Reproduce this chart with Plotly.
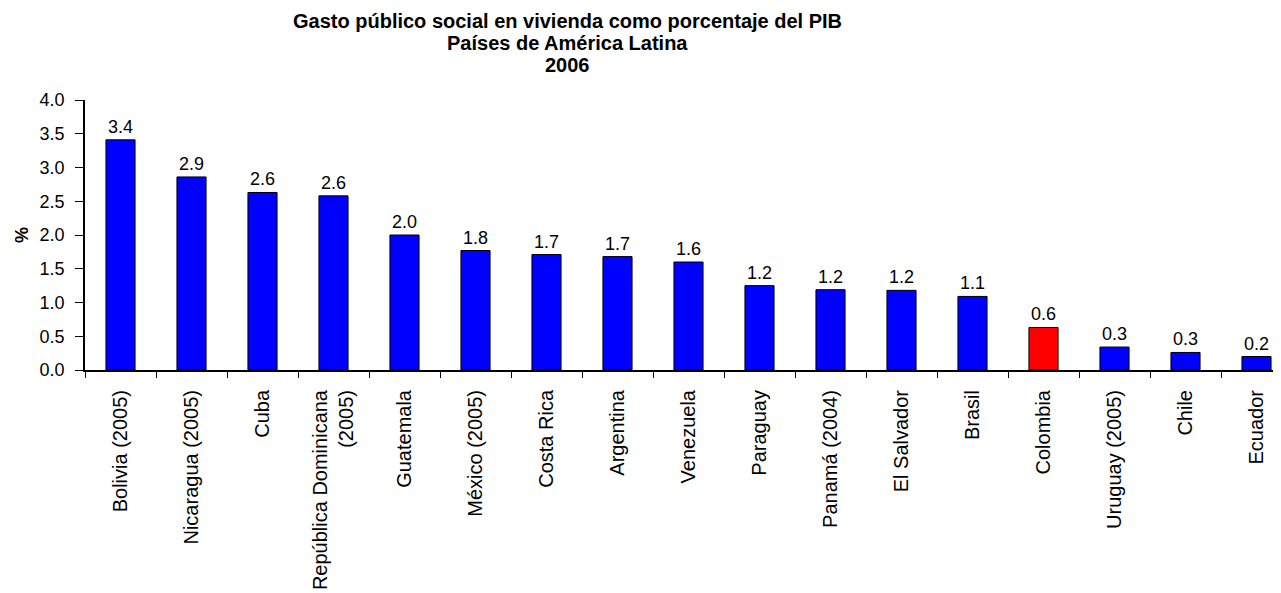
import plotly.graph_objects as go

categories = ["Bolivia (2005)", "Nicaragua (2005)", "Cuba", "República Dominicana<br>(2005)",
              "Guatemala", "México (2005)", "Costa Rica", "Argentina", "Venezuela", "Paraguay",
              "Panamá (2004)", "El Salvador", "Brasil", "Colombia", "Uruguay (2005)", "Chile", "Ecuador"]
values = [3.41, 2.86, 2.63, 2.58, 2.0, 1.77, 1.71, 1.68, 1.6, 1.25, 1.19, 1.18, 1.09, 0.63, 0.34, 0.26, 0.2]
highlight = "Colombia"
title_lines = ["Gasto público social en vivienda como porcentaje del PIB",
               "Países de América Latina",
               "2006"]

colors = ["#FF0000" if c == highlight else "#0000FF" for c in categories]
FONT = "Liberation Sans"

# page body has an 8px margin; compensate so plot area sits at x=85..1281, y=100..370
OFF = 8
W, H = 1281 - OFF, 593 - OFF
PT, PB, PL = 100, 370, 85
ph = PB - PT

fig = go.Figure(go.Bar(
    x=categories, y=values,
    marker=dict(color=colors, line=dict(color="black", width=1)),
    text=[f"{v:.1f}" for v in values], textposition="outside",
    textfont=dict(size=18, color="black", family=FONT),
    cliponaxis=False,
))

annos = []
for yc, line in zip([21, 43, 65], title_lines):
    annos.append(dict(
        text=f"<b>{line}</b>", xref="paper", yref="paper",
        x=(567 - PL) / (1281 - PL), y=1 + (PT - yc) / ph,
        xanchor="center", yanchor="middle", showarrow=False,
        font=dict(size=20, family=FONT, color="black"),
    ))

fig.update_layout(
    width=W, height=H,
    margin=dict(l=PL - OFF, r=0, t=PT - OFF, b=H + OFF - PB),
    paper_bgcolor="white", plot_bgcolor="white",
    bargap=0.59,
    showlegend=False,
    font=dict(family=FONT, color="black", size=18),
    annotations=annos,
)

fig.update_xaxes(
    type="category", range=[-0.5, 16.345],
    tickson="boundaries", ticks="outside", ticklen=6, tickcolor="black", tickwidth=1,
    showline=True, linecolor="black", linewidth=2,
    tickangle=-90, tickfont=dict(size=20, family=FONT, color="black"),
    ticklabelstandoff=10,
    showgrid=False,
)
fig.update_yaxes(
    range=[0, 4], dtick=0.5, tickformat=".1f",
    ticks="outside", ticklen=8, tickcolor="black",
    showline=True, linecolor="black", linewidth=1.5,
    showgrid=False, zeroline=False,
    tickfont=dict(size=18, family=FONT, color="black"),
    ticklabelstandoff=7,
    title=dict(text="<b>%</b>", font=dict(size=18, family=FONT, color="black"), standoff=6),
)

fig.write_html("out.html")
